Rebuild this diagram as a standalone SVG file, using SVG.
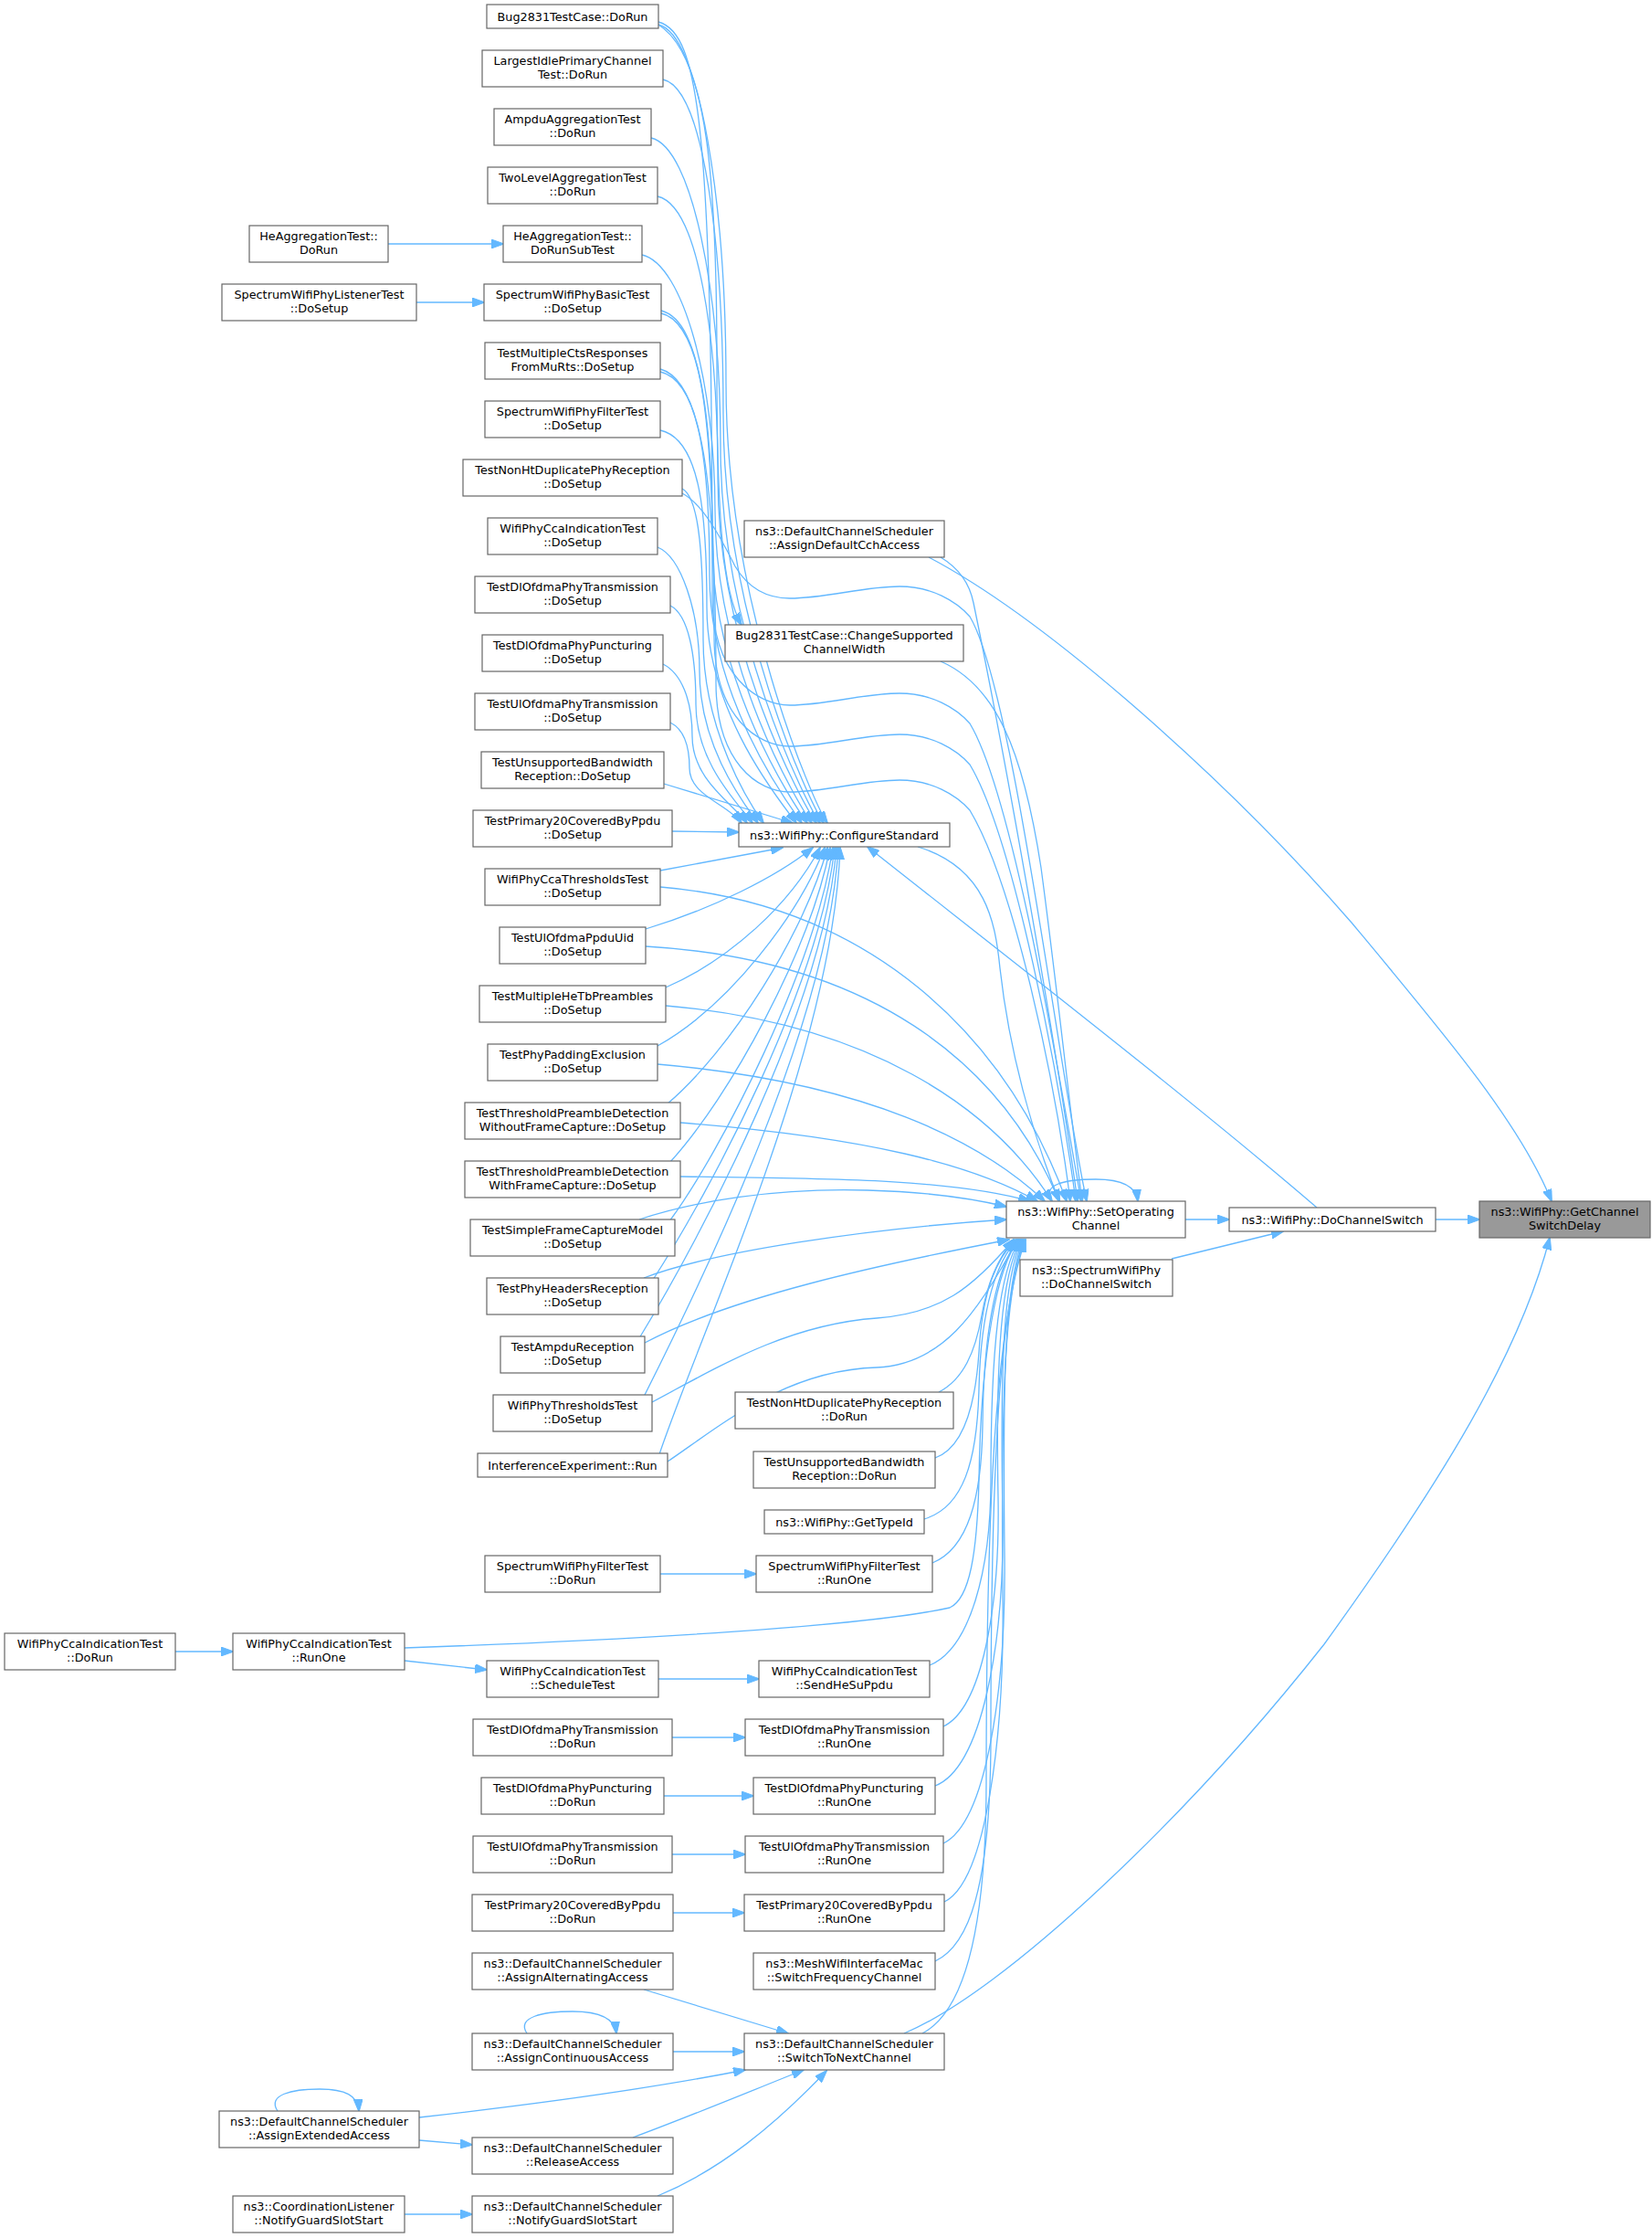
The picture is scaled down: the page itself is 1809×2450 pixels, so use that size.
<svg xmlns="http://www.w3.org/2000/svg" width="1809" height="2450" viewBox="0 0 1809 2450">
<style>
.n rect{fill:#ffffff;stroke:#666666;stroke-width:1.2}
.n text{font-family:"DejaVu Sans","Liberation Sans",sans-serif;font-size:12.8px;text-anchor:middle;fill:#000000}
.hl rect{fill:#999999}
.e path{fill:none;stroke:#63b8ff;stroke-width:1.3;marker-end:url(#ah)}
</style>
<defs>
<marker id="ah" viewBox="0 0 14 10" refX="13" refY="5" markerWidth="14" markerHeight="10" orient="auto" markerUnits="userSpaceOnUse"><path d="M0,0 L14,5 L0,10 z" fill="#63b8ff" stroke="#63b8ff" stroke-width="1"/></marker>
</defs>
<rect x="0" y="0" width="1809" height="2450" fill="#ffffff"/>
<g id="edges" class="e">
<path d="M425,267 L551,267"/>
<path d="M456,331 L530,331"/>
<path d="M192,1808 L255,1808"/>
<path d="M723,1723 L828,1723"/>
<path d="M721,1838 L831,1838"/>
<path d="M736,1902 L816,1902"/>
<path d="M727,1966 L825,1966"/>
<path d="M736,2030 L816,2030"/>
<path d="M737,2094 L815,2094"/>
<path d="M737,2246 L815,2246"/>
<path d="M443,2424 L517,2424"/>
<path d="M1298,1335 L1346,1335"/>
<path d="M1572,1335 L1620,1335"/>
<path d="M736,910 L809,911"/>
<path d="M443,1818 L533,1828"/>
<path d="M459,2343 L517,2348"/>
<path d="M705,2178 L863,2226"/>
<path d="M459,2318 C600,2302 720,2285 816,2266"/>
<path d="M693,2340 C760,2315 820,2290 880,2266"/>
<path d="M720,2404 C790,2375 850,2325 905,2267"/>
<path d="M1283,1378 L1405,1348"/>
<path d="M1152,1315 C1140,1297 1165,1291 1200,1291 C1228,1291 1244,1298 1246,1315"/>
<path d="M577,2226 C565,2208 595,2202 627,2202 C655,2202 673,2209 675,2226"/>
<path d="M304,2311 C292,2293 320,2287 350,2287 C378,2287 392,2294 393,2311"/>
<path d="M1017,610 C1150,680 1350,860 1480,1010 C1580,1130 1665,1230 1699,1315"/>
<path d="M990,2226 C1100,2180 1300,1990 1450,1800 C1580,1620 1665,1480 1697,1355"/>
<path d="M1442,1322 C1300,1200 1080,1030 950,927"/>
<path d="M1005,927 C1080,950 1090,1010 1095,1060 C1105,1150 1130,1240 1160,1315"/>
<path d="M1030,610 C1050,622 1062,640 1066,660 C1095,800 1150,1100 1180,1315"/>
<path d="M1030,724 C1090,750 1120,820 1140,950 C1160,1100 1172,1220 1185,1315"/>
<path d="M721,27 C775,60 785,200 785,400 C785,570 792,650 812,684"/>
<path d="M721,27 C766,37 795,223 795,420 C795,661 891,880 906,901"/>
<path d="M726,87 C771,97 792,270 792,454 C792,678 887,880 902,901"/>
<path d="M713,151 C758,161 789,320 789,489 C789,695 883,880 898,901"/>
<path d="M720,215 C765,225 786,370 786,524 C786,713 879,880 894,901"/>
<path d="M703,279 C748,289 783,419 783,559 C783,730 874,880 889,901"/>
<path d="M724,343 C769,353 780,469 780,595 C780,748 869,880 884,901"/>
<path d="M723,407 C768,417 777,518 777,630 C777,765 863,880 878,901"/>
<path d="M723,471 C768,481 774,568 774,665 C774,783 857,880 872,901"/>
<path d="M747,535 C767,545 770,617 770,700 C770,801 821,880 836,901"/>
<path d="M720,599 C745,609 766,667 766,735 C766,818 815,880 830,901"/>
<path d="M734,663 C754,673 762,717 762,771 C762,836 809,880 824,901"/>
<path d="M726,727 C746,737 758,766 758,806 C758,854 803,880 818,901"/>
<path d="M734,791 C750,799 755,820 755,841 C755,871 797,880 812,901"/>
<path d="M747,540 C770,552 790,590 805,620 C820,645 840,655 865,655 C905,655 945,642 985,642 C1020,642 1047,658 1062,675 C1110,755 1160,1180 1190,1315"/>
<path d="M721,24 C766,36 780,144 780,652 C780,740 830,772 865,772 C905,772 945,759 985,759 C1020,759 1047,775 1062,792 C1110,872 1160,1180 1184,1315"/>
<path d="M724,340 C769,352 782,460 782,697 C782,785 830,817 865,817 C905,817 945,804 985,804 C1020,804 1047,820 1062,837 C1110,917 1160,1180 1178,1315"/>
<path d="M723,404 C768,416 784,524 784,747 C784,835 830,867 865,867 C905,867 945,854 985,854 C1020,854 1047,870 1062,887 C1110,967 1155,1180 1172,1315"/>
<path d="M727,858 L868,901"/>
<path d="M723,953 L857,928"/>
<path d="M707,1017 C780,995 850,960 890,928"/>
<path d="M729,1081 C800,1050 865,990 898,928"/>
<path d="M720,1145 C800,1100 875,1000 903,928"/>
<path d="M730,1209 C800,1150 882,1020 906,928"/>
<path d="M733,1273 C800,1200 887,1040 909,928"/>
<path d="M733,1337 C790,1260 892,1060 912,928"/>
<path d="M715,1401 C780,1300 897,1080 914,928"/>
<path d="M700,1465 C770,1350 902,1100 916,928"/>
<path d="M705,1529 C770,1400 907,1120 918,928"/>
<path d="M722,1592 C770,1450 912,1150 920,928"/>
<path d="M723,971 C950,990 1100,1130 1168,1315"/>
<path d="M707,1036 C950,1050 1095,1160 1160,1315"/>
<path d="M729,1101 C950,1120 1085,1210 1152,1315"/>
<path d="M720,1165 C950,1185 1075,1250 1144,1315"/>
<path d="M745,1229 C950,1245 1065,1275 1136,1315"/>
<path d="M745,1288 C900,1290 1040,1290 1128,1315"/>
<path d="M700,1335 C760,1315 850,1300 950,1303 C1020,1305 1065,1312 1102,1321"/>
<path d="M705,1399 C780,1370 950,1345 1102,1335"/>
<path d="M706,1470 C800,1420 960,1385 1105,1357"/>
<path d="M714,1535 C780,1500 860,1450 960,1443 C1030,1438 1065,1410 1110,1357"/>
<path d="M731,1600 C790,1560 860,1500 960,1497 C1030,1494 1070,1440 1114,1357"/>
<path d="M1028,1524 C1055,1510 1068,1480 1075,1440 C1082,1400 1095,1375 1110,1357"/>
<path d="M1024,1596 C1055,1585 1068,1540 1072,1480 C1076,1410 1092,1378 1112,1357"/>
<path d="M1012,1663 C1055,1650 1070,1600 1072,1520 C1074,1430 1092,1380 1114,1357"/>
<path d="M1021,1711 C1060,1695 1075,1640 1076,1560 C1077,1450 1093,1385 1115,1357"/>
<path d="M443,1804 C700,1795 950,1780 1040,1760 C1062,1750 1070,1700 1072,1620 C1074,1480 1092,1385 1116,1357"/>
<path d="M1018,1823 C1062,1805 1085,1720 1085,1620 C1085,1470 1095,1390 1117,1357"/>
<path d="M1033,1890 C1075,1870 1095,1760 1093,1640 C1090,1480 1097,1395 1118,1357"/>
<path d="M1024,1955 C1075,1935 1100,1800 1098,1660 C1095,1490 1099,1400 1119,1357"/>
<path d="M1033,2018 C1080,1995 1102,1850 1100,1700 C1098,1510 1100,1410 1120,1357"/>
<path d="M1034,2082 C1080,2060 1100,1900 1098,1750 C1096,1530 1100,1420 1121,1357"/>
<path d="M1024,2147 C1060,2130 1085,2070 1085,1900 C1085,1600 1095,1430 1122,1357"/>
<path d="M1010,2226 C1060,2200 1080,2100 1080,1950 C1080,1650 1090,1450 1123,1357"/>
</g>
<g id="n_cca_dorun" class="n"><rect x="5" y="1788" width="187" height="40"/><text x="98.5" y="1803.8">WifiPhyCcaIndicationTest</text><text x="98.5" y="1818.8">::DoRun</text></g>
<g id="n_he_dorun" class="n"><rect x="273" y="247" width="152" height="40"/><text x="349" y="262.8">HeAggregationTest::</text><text x="349" y="277.8">DoRun</text></g>
<g id="n_listener" class="n"><rect x="243" y="311" width="213" height="40"/><text x="349.5" y="326.8">SpectrumWifiPhyListenerTest</text><text x="349.5" y="341.8">::DoSetup</text></g>
<g id="n_cca_runone" class="n"><rect x="255" y="1788" width="188" height="40"/><text x="349" y="1803.8">WifiPhyCcaIndicationTest</text><text x="349" y="1818.8">::RunOne</text></g>
<g id="n_assign_ext" class="n"><rect x="240" y="2311" width="219" height="40"/><text x="349.5" y="2326.8">ns3::DefaultChannelScheduler</text><text x="349.5" y="2341.8">::AssignExtendedAccess</text></g>
<g id="n_coord" class="n"><rect x="255" y="2404" width="188" height="40"/><text x="349" y="2419.8">ns3::CoordinationListener</text><text x="349" y="2434.8">::NotifyGuardSlotStart</text></g>
<g id="n_r1" class="n"><rect x="533" y="5" width="188" height="26"/><text x="627" y="22.5">Bug2831TestCase::DoRun</text></g>
<g id="n_r2" class="n"><rect x="528" y="55" width="198" height="40"/><text x="627" y="70.8">LargestIdlePrimaryChannel</text><text x="627" y="85.8">Test::DoRun</text></g>
<g id="n_r3" class="n"><rect x="541" y="119" width="172" height="40"/><text x="627" y="134.8">AmpduAggregationTest</text><text x="627" y="149.8">::DoRun</text></g>
<g id="n_r4" class="n"><rect x="534" y="183" width="186" height="40"/><text x="627" y="198.8">TwoLevelAggregationTest</text><text x="627" y="213.8">::DoRun</text></g>
<g id="n_r5" class="n"><rect x="551" y="247" width="152" height="40"/><text x="627" y="262.8">HeAggregationTest::</text><text x="627" y="277.8">DoRunSubTest</text></g>
<g id="n_r6" class="n"><rect x="530" y="311" width="194" height="40"/><text x="627" y="326.8">SpectrumWifiPhyBasicTest</text><text x="627" y="341.8">::DoSetup</text></g>
<g id="n_r7" class="n"><rect x="531" y="375" width="192" height="40"/><text x="627" y="390.8">TestMultipleCtsResponses</text><text x="627" y="405.8">FromMuRts::DoSetup</text></g>
<g id="n_r8" class="n"><rect x="531" y="439" width="192" height="40"/><text x="627" y="454.8">SpectrumWifiPhyFilterTest</text><text x="627" y="469.8">::DoSetup</text></g>
<g id="n_r9" class="n"><rect x="507" y="503" width="240" height="40"/><text x="627" y="518.8">TestNonHtDuplicatePhyReception</text><text x="627" y="533.8">::DoSetup</text></g>
<g id="n_r10" class="n"><rect x="534" y="567" width="186" height="40"/><text x="627" y="582.8">WifiPhyCcaIndicationTest</text><text x="627" y="597.8">::DoSetup</text></g>
<g id="n_r11" class="n"><rect x="520" y="631" width="214" height="40"/><text x="627" y="646.8">TestDlOfdmaPhyTransmission</text><text x="627" y="661.8">::DoSetup</text></g>
<g id="n_r12" class="n"><rect x="528" y="695" width="198" height="40"/><text x="627" y="710.8">TestDlOfdmaPhyPuncturing</text><text x="627" y="725.8">::DoSetup</text></g>
<g id="n_r13" class="n"><rect x="520" y="759" width="214" height="40"/><text x="627" y="774.8">TestUlOfdmaPhyTransmission</text><text x="627" y="789.8">::DoSetup</text></g>
<g id="n_r14" class="n"><rect x="527" y="823" width="200" height="40"/><text x="627" y="838.8">TestUnsupportedBandwidth</text><text x="627" y="853.8">Reception::DoSetup</text></g>
<g id="n_r15" class="n"><rect x="518" y="887" width="218" height="40"/><text x="627" y="902.8">TestPrimary20CoveredByPpdu</text><text x="627" y="917.8">::DoSetup</text></g>
<g id="n_r16" class="n"><rect x="531" y="951" width="192" height="40"/><text x="627" y="966.8">WifiPhyCcaThresholdsTest</text><text x="627" y="981.8">::DoSetup</text></g>
<g id="n_r17" class="n"><rect x="547" y="1015" width="160" height="40"/><text x="627" y="1030.8">TestUlOfdmaPpduUid</text><text x="627" y="1045.8">::DoSetup</text></g>
<g id="n_r18" class="n"><rect x="525" y="1079" width="204" height="40"/><text x="627" y="1094.8">TestMultipleHeTbPreambles</text><text x="627" y="1109.8">::DoSetup</text></g>
<g id="n_r19" class="n"><rect x="534" y="1143" width="186" height="40"/><text x="627" y="1158.8">TestPhyPaddingExclusion</text><text x="627" y="1173.8">::DoSetup</text></g>
<g id="n_r20" class="n"><rect x="509" y="1207" width="236" height="40"/><text x="627" y="1222.8">TestThresholdPreambleDetection</text><text x="627" y="1237.8">WithoutFrameCapture::DoSetup</text></g>
<g id="n_r21" class="n"><rect x="509" y="1271" width="236" height="40"/><text x="627" y="1286.8">TestThresholdPreambleDetection</text><text x="627" y="1301.8">WithFrameCapture::DoSetup</text></g>
<g id="n_r22" class="n"><rect x="515" y="1335" width="224" height="40"/><text x="627" y="1350.8">TestSimpleFrameCaptureModel</text><text x="627" y="1365.8">::DoSetup</text></g>
<g id="n_r23" class="n"><rect x="533" y="1399" width="188" height="40"/><text x="627" y="1414.8">TestPhyHeadersReception</text><text x="627" y="1429.8">::DoSetup</text></g>
<g id="n_r24" class="n"><rect x="548" y="1463" width="158" height="40"/><text x="627" y="1478.8">TestAmpduReception</text><text x="627" y="1493.8">::DoSetup</text></g>
<g id="n_r25" class="n"><rect x="540" y="1527" width="174" height="40"/><text x="627" y="1542.8">WifiPhyThresholdsTest</text><text x="627" y="1557.8">::DoSetup</text></g>
<g id="n_r26" class="n"><rect x="523" y="1591" width="208" height="26"/><text x="627" y="1608.5">InterferenceExperiment::Run</text></g>
<g id="n_sf_dorun" class="n"><rect x="531" y="1703" width="192" height="40"/><text x="627" y="1718.8">SpectrumWifiPhyFilterTest</text><text x="627" y="1733.8">::DoRun</text></g>
<g id="n_sched" class="n"><rect x="533" y="1818" width="188" height="40"/><text x="627" y="1833.8">WifiPhyCcaIndicationTest</text><text x="627" y="1848.8">::ScheduleTest</text></g>
<g id="n_dl_dorun" class="n"><rect x="518" y="1882" width="218" height="40"/><text x="627" y="1897.8">TestDlOfdmaPhyTransmission</text><text x="627" y="1912.8">::DoRun</text></g>
<g id="n_pu_dorun" class="n"><rect x="527" y="1946" width="200" height="40"/><text x="627" y="1961.8">TestDlOfdmaPhyPuncturing</text><text x="627" y="1976.8">::DoRun</text></g>
<g id="n_ul_dorun" class="n"><rect x="518" y="2010" width="218" height="40"/><text x="627" y="2025.8">TestUlOfdmaPhyTransmission</text><text x="627" y="2040.8">::DoRun</text></g>
<g id="n_p20_dorun" class="n"><rect x="517" y="2074" width="220" height="40"/><text x="627" y="2089.8">TestPrimary20CoveredByPpdu</text><text x="627" y="2104.8">::DoRun</text></g>
<g id="n_alt" class="n"><rect x="517" y="2138" width="220" height="40"/><text x="627" y="2153.8">ns3::DefaultChannelScheduler</text><text x="627" y="2168.8">::AssignAlternatingAccess</text></g>
<g id="n_cont" class="n"><rect x="517" y="2226" width="220" height="40"/><text x="627" y="2241.8">ns3::DefaultChannelScheduler</text><text x="627" y="2256.8">::AssignContinuousAccess</text></g>
<g id="n_rel" class="n"><rect x="517" y="2340" width="220" height="40"/><text x="627" y="2355.8">ns3::DefaultChannelScheduler</text><text x="627" y="2370.8">::ReleaseAccess</text></g>
<g id="n_ngs" class="n"><rect x="517" y="2404" width="220" height="40"/><text x="627" y="2419.8">ns3::DefaultChannelScheduler</text><text x="627" y="2434.8">::NotifyGuardSlotStart</text></g>
<g id="n_adca" class="n"><rect x="815" y="570" width="219" height="40"/><text x="924.5" y="585.8">ns3::DefaultChannelScheduler</text><text x="924.5" y="600.8">::AssignDefaultCchAccess</text></g>
<g id="n_csw" class="n"><rect x="794" y="684" width="261" height="40"/><text x="924.5" y="699.8">Bug2831TestCase::ChangeSupported</text><text x="924.5" y="714.8">ChannelWidth</text></g>
<g id="n_cs" class="n"><rect x="809" y="901" width="231" height="26"/><text x="924.5" y="918.5">ns3::WifiPhy::ConfigureStandard</text></g>
<g id="n_nh_dorun" class="n"><rect x="805" y="1524" width="239" height="40"/><text x="924.5" y="1539.8">TestNonHtDuplicatePhyReception</text><text x="924.5" y="1554.8">::DoRun</text></g>
<g id="n_ub_dorun" class="n"><rect x="825" y="1589" width="199" height="40"/><text x="924.5" y="1604.8">TestUnsupportedBandwidth</text><text x="924.5" y="1619.8">Reception::DoRun</text></g>
<g id="n_gti" class="n"><rect x="837" y="1653" width="175" height="26"/><text x="924.5" y="1670.5">ns3::WifiPhy::GetTypeId</text></g>
<g id="n_sf_runone" class="n"><rect x="828" y="1703" width="193" height="40"/><text x="924.5" y="1718.8">SpectrumWifiPhyFilterTest</text><text x="924.5" y="1733.8">::RunOne</text></g>
<g id="n_shsp" class="n"><rect x="831" y="1818" width="187" height="40"/><text x="924.5" y="1833.8">WifiPhyCcaIndicationTest</text><text x="924.5" y="1848.8">::SendHeSuPpdu</text></g>
<g id="n_dl_runone" class="n"><rect x="816" y="1882" width="217" height="40"/><text x="924.5" y="1897.8">TestDlOfdmaPhyTransmission</text><text x="924.5" y="1912.8">::RunOne</text></g>
<g id="n_pu_runone" class="n"><rect x="825" y="1946" width="199" height="40"/><text x="924.5" y="1961.8">TestDlOfdmaPhyPuncturing</text><text x="924.5" y="1976.8">::RunOne</text></g>
<g id="n_ul_runone" class="n"><rect x="816" y="2010" width="217" height="40"/><text x="924.5" y="2025.8">TestUlOfdmaPhyTransmission</text><text x="924.5" y="2040.8">::RunOne</text></g>
<g id="n_p20_runone" class="n"><rect x="815" y="2074" width="219" height="40"/><text x="924.5" y="2089.8">TestPrimary20CoveredByPpdu</text><text x="924.5" y="2104.8">::RunOne</text></g>
<g id="n_mesh" class="n"><rect x="825" y="2138" width="199" height="40"/><text x="924.5" y="2153.8">ns3::MeshWifiInterfaceMac</text><text x="924.5" y="2168.8">::SwitchFrequencyChannel</text></g>
<g id="n_stn" class="n"><rect x="815" y="2226" width="219" height="40"/><text x="924.5" y="2241.8">ns3::DefaultChannelScheduler</text><text x="924.5" y="2256.8">::SwitchToNextChannel</text></g>
<g id="n_soc" class="n"><rect x="1102" y="1315" width="196" height="40"/><text x="1200" y="1330.8">ns3::WifiPhy::SetOperating</text><text x="1200" y="1345.8">Channel</text></g>
<g id="n_swp" class="n"><rect x="1117" y="1379" width="167" height="40"/><text x="1200.5" y="1394.8">ns3::SpectrumWifiPhy</text><text x="1200.5" y="1409.8">::DoChannelSwitch</text></g>
<g id="n_dcs" class="n"><rect x="1346" y="1322" width="226" height="26"/><text x="1459" y="1339.5">ns3::WifiPhy::DoChannelSwitch</text></g>
<g id="n_gcsd" class="n hl"><rect x="1620" y="1315" width="187" height="40"/><text x="1713.5" y="1330.8">ns3::WifiPhy::GetChannel</text><text x="1713.5" y="1345.8">SwitchDelay</text></g>
</svg>
